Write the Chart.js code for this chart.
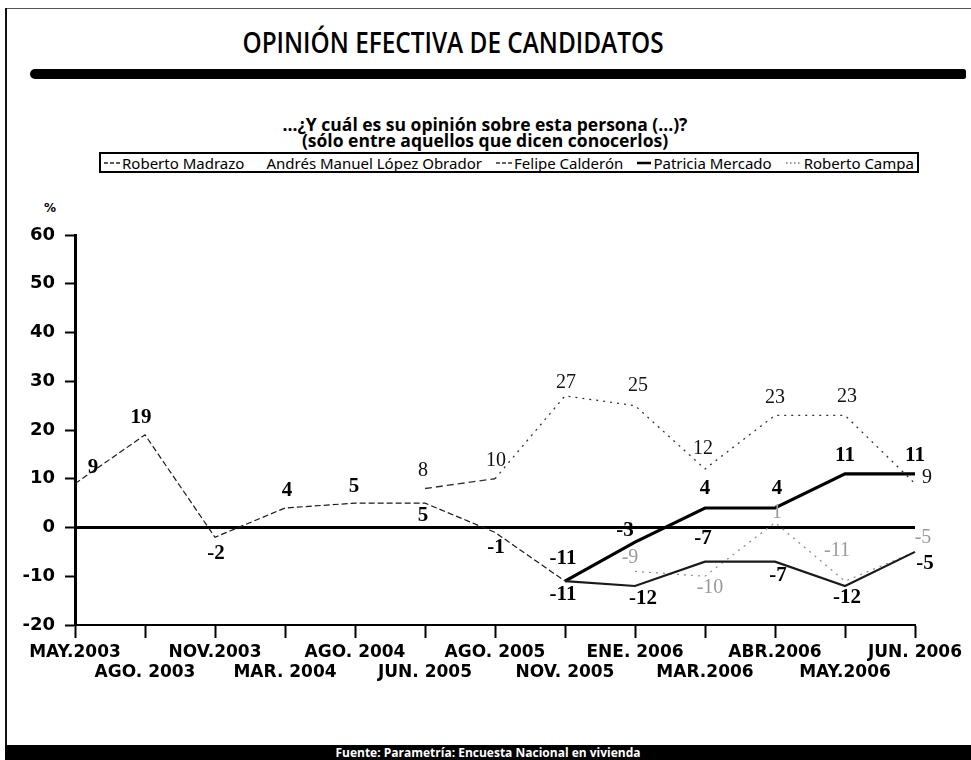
<!DOCTYPE html>
<html>
<head>
<meta charset="utf-8">
<script src="https://cdn.jsdelivr.net/npm/chart.js@4.4.1/dist/chart.umd.min.js"></script>
<style>
html,body{margin:0;padding:0;background:#fff;}
#page{position:relative;width:971px;height:760px;overflow:hidden;background:#fff;}
#frameL{position:absolute;left:5px;top:8px;width:2px;height:738px;background:#111;}
#frameT{position:absolute;left:5px;top:8px;width:966px;height:1px;background:#555;}
#title{position:absolute;left:0;top:24px;width:906px;text-align:center;font-family:"Open Sans",sans-serif;font-weight:600;font-size:29px;line-height:36px;color:#000;transform:scaleX(0.84);transform-origin:center;}
#bar{position:absolute;left:30px;top:69px;width:936px;height:10px;background:#000;border-radius:6px 3px 3px 6px;}
#subtitle{position:absolute;left:0;top:116px;width:970px;text-align:center;font-family:"Open Sans",sans-serif;font-weight:bold;font-size:17.5px;line-height:16px;color:#000;}
#legend{position:absolute;left:99px;top:152px;width:820px;height:21px;box-sizing:border-box;border:2px solid #000;display:flex;justify-content:space-between;align-items:center;padding:0 3px;font-family:"Noto Sans",sans-serif;font-size:15px;color:#000;white-space:nowrap;}
#legend .item{display:flex;align-items:center;}
#legend svg{margin-right:2px;}
#pct{position:absolute;left:44px;top:201px;font-family:"DejaVu Sans",sans-serif;font-weight:bold;font-size:12px;color:#000;}
#chartBox{position:absolute;left:0;top:190px;width:971px;height:500px;}
#footer{position:absolute;left:5px;top:745px;width:966px;height:15px;background:#000;color:#fff;text-align:center;font-family:"Open Sans",sans-serif;font-weight:bold;font-size:12px;line-height:15px;}
</style>
</head>
<body>
<div id="page">
  <div id="frameT"></div>
  <div id="frameL"></div>
  <div id="title">OPINIÓN EFECTIVA DE CANDIDATOS</div>
  <div id="bar"></div>
  <div id="subtitle">...¿Y cuál es su opinión sobre esta persona (...)?<br>(sólo entre aquellos que dicen conocerlos)</div>
  <div id="legend"></div>
  <div id="pct">%</div>
  <div id="chartBox"><canvas id="c" width="971" height="500"></canvas></div>
  <div id="footer">Fuente: Parametría: Encuesta Nacional en vivienda</div>
</div>
<script>
// ---- data ----
const categories = ['MAY.2003','AGO. 2003','NOV.2003','MAR. 2004','AGO. 2004','JUN. 2005','AGO. 2005','NOV. 2005','ENE. 2006','MAR.2006','ABR.2006','MAY.2006','JUN. 2006'];
const seriesNames = ['Roberto Madrazo','Andrés Manuel López Obrador','Felipe Calderón','Patricia Mercado','Roberto Campa'];
const madrazo      = [9, 19, -2, 4, 5, 5, -1, -11, -12, -7, -7, -12, -5];
const lopezObrador = [null, null, null, null, null, null, null, null, null, null, null, null, null];
const calderon     = [null, null, null, null, null, 8, 10, 27, 25, 12, 23, 23, 9];
const mercado      = [null, null, null, null, null, null, null, -11, -3, 4, 4, 11, 11];
const campa        = [null, null, null, null, null, null, null, null, -9, -10, 1, -11, -5];
const yTicks = [-20, -10, 0, 10, 20, 30, 40, 50, 60];

// ---- label placement (style only) ----
const N = null;
const madrazoLbl  = [[18,-16],[-4,-17],[1,16],[2,-17],[-1,-17],[-2,12],[1,15],[-2,-23],[8,13],[-2,-23],[3,14],[2,12],[10,12]];
const calderonLbl = [N,N,N,N,N,[-2,-18],[1,-18],[1,-13],[3,-20],[-2,-20],[0,-18],[2,-19],[12,-6]];
const mercadoLbl  = [N,N,N,N,N,N,N,[-2,13],[-10,-12],[0,-19],[2,-19],[0,-18],[0,-18]];
const campaLbl    = [N,N,N,N,N,N,N,N,[-5,-14],[5,11],[2,-10],[-8,-30],[8,-14]];

const datasets = [
  {label: seriesNames[0], data: madrazo, borderColor:'#1a1a1a', borderWidth:2, borderDash:[],
   segment:{borderDash: c => c.p0DataIndex < 7 ? [6,3] : [], borderWidth: c => c.p0DataIndex < 7 ? 1.2 : 2.2},
   labelOffsets: madrazoLbl, labelFont:'bold 21px "Liberation Serif"', labelColor:'#000',
   legendDash:[4,2], legendWidth:1.5, legendColor:'#222'},
  {label: seriesNames[1], data: lopezObrador, borderColor:'rgba(0,0,0,0)', borderWidth:1,
   legendDash:null},
  {label: seriesNames[2], data: calderon, borderColor:'#333', borderWidth:1.3, borderDash:[2,5],
   segment:{borderDash: c => c.p0DataIndex === 5 ? [7,4] : [2,5]},
   labelOffsets: calderonLbl, labelFont:'20px "Liberation Serif"', labelColor:'#111',
   legendDash:[4,2], legendWidth:1.3, legendColor:'#333'},
  {label: seriesNames[3], data: mercado, borderColor:'#000', borderWidth:3.2,
   labelOffsets: mercadoLbl, labelFont:'bold 21px "Liberation Serif"', labelColor:'#000',
   legendDash:[], legendWidth:2.5, legendColor:'#000'},
  {label: seriesNames[4], data: campa, borderColor:'#8a8a8a', borderWidth:1.2, borderDash:[2,5],
   labelOffsets: campaLbl, labelFont:'20px "Liberation Serif"', labelColor:'#9a9a9a',
   legendDash:[1.5,2.5], legendWidth:1.3, legendColor:'#777'}
];
datasets.forEach(d => { d.pointRadius = 0; d.pointHoverRadius = 0; d.tension = 0; d.fill = false; d.spanGaps = false; });

// ---- HTML legend from datasets ----
const leg = document.getElementById('legend');
datasets.forEach(d => {
  const it = document.createElement('span');
  it.className = 'item';
  if (d.legendDash) {
    const w = d.legendDash.length ? 16 : 14;
    it.innerHTML = '<svg width="'+w+'" height="10"><line x1="0" y1="5" x2="'+w+'" y2="5" stroke="'+d.legendColor+'" stroke-width="'+d.legendWidth+'" stroke-dasharray="'+(d.legendDash.length?d.legendDash.join(','):'none')+'"/></svg>';
  } else {
    it.innerHTML = '<svg width="6" height="10"></svg>';
  }
  const t = document.createElement('span');
  t.textContent = d.label;
  it.appendChild(t);
  leg.appendChild(it);
});

// ---- point labels plugin ----
const pointLabels = {
  id:'pointLabels',
  afterDatasetsDraw(chart){
    const ctx = chart.ctx;
    chart.data.datasets.forEach((ds, di) => {
      if (!ds.labelOffsets) return;
      const meta = chart.getDatasetMeta(di);
      ctx.save();
      ctx.font = ds.labelFont;
      ctx.fillStyle = ds.labelColor;
      ctx.textAlign = 'center';
      ctx.textBaseline = 'middle';
      meta.data.forEach((pt, i) => {
        const v = ds.data[i];
        const o = ds.labelOffsets[i];
        if (v === null || v === undefined || !o) return;
        ctx.fillText(String(v), pt.x + o[0], pt.y + o[1]);
      });
      ctx.restore();
    });
  }
};

new Chart(document.getElementById('c'), {
  type:'line',
  data:{labels: categories, datasets: datasets},
  options:{
    responsive:false,
    animation:false,
    devicePixelRatio:1,
    layout:{padding:{top:45, right:56, left:0, bottom:0}},
    plugins:{legend:{display:false}, tooltip:{enabled:false}, title:{display:false}},
    scales:{
      x:{
        type:'category', offset:false,
        ticks:{autoSkip:false, maxRotation:0, minRotation:0, color:'#000', padding:5,
          font:{family:'"DejaVu Sans", sans-serif', weight:'bold', size:17, lineHeight:1.15},
          callback:(v, i) => i % 2 === 0 ? [categories[i]] : ['', categories[i]]},
        grid:{color:'rgba(0,0,0,0)', drawTicks:true, tickLength:13, tickColor:'#000', tickWidth:2},
        border:{display:true, color:'#000', width:2},
        afterFit: s => { s.height = 65; }
      },
      y:{
        min:-20, max:60,
        afterBuildTicks: s => { s.ticks = yTicks.map(v => ({value:v})); },
        ticks:{color:'#000', padding:10, font:{family:'"DejaVu Sans", sans-serif', weight:'bold', size:18}},
        grid:{color: c => (c.tick && c.tick.value === 0) ? '#000' : 'rgba(0,0,0,0)',
              lineWidth: c => (c.tick && c.tick.value === 0) ? 3 : 1,
              drawTicks:true, tickLength:10, tickColor:'#000', tickWidth:2},
        border:{display:true, color:'#000', width:3},
        afterFit: s => { s.width = 75; }
      }
    }
  },
  plugins:[pointLabels]
});
</script>
</body>
</html>
